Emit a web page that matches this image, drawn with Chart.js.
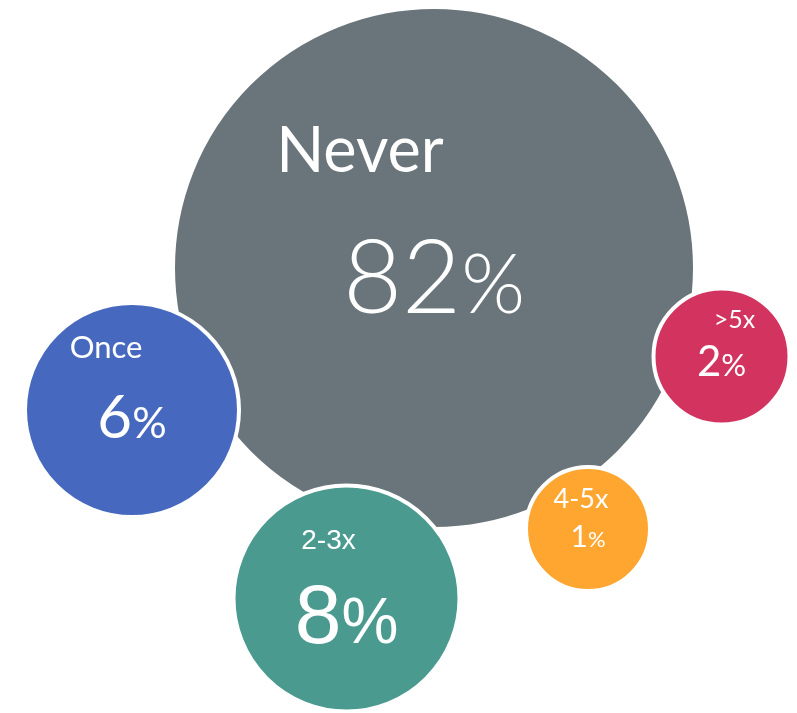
<!DOCTYPE html>
<html>
<head>
<meta charset="utf-8">
<script src="https://cdn.jsdelivr.net/npm/chart.js@4.4.1/dist/chart.umd.min.js"></script>
<style>
  html, body { margin: 0; padding: 0; background: #fff; }
  #wrap { width: 797px; height: 713px; }
</style>
</head>
<body>
<div id="wrap"><canvas id="bubbles" width="797" height="713"></canvas></div>
<script>
const categories = ["Never", "Once", "2-3x", "4-5x", ">5x"];
const shares = [82, 6, 8, 1, 2];
const xValues = [434, 132, 346.5, 588, 721.5];
const yValues = [268, 410, 598.5, 529, 356.5];
const radii = [261, 107, 113, 62, 68];
const colors = ["#6a757b", "#4669bf", "#4a9a8f", "#ffa630", "#d3345f"];

// per-bubble text styling: label offset/size/weight, value offset/size/weight
const textStyle = [
  { font: "Lato", lw: 400, vw: 300, lx: -74, ly: -96, ls: 63, vy: 45, vs: 102, pct: 0.8 },
  { font: "Lato", lw: 400, vw: 400, lx: -26, ly: -52, ls: 31, vy: 28, vs: 60, pct: 0.72 },
  { font: "'Liberation Sans', Arial", lw: 400, vw: 400, lx: -18, ly: -50, ls: 28, vy: 44, vs: 84, pct: 0.76 },
  { font: "Lato", lw: 400, vw: 400, lx: -7, ly: -21, ls: 27, vy: 18, vs: 30, pct: 0.72 },
  { font: "Lato", lw: 400, vw: 400, lx: 13, ly: -29, ls: 25, vy: 19, vs: 42, pct: 0.74 }
];

const points = categories.map(function (c, i) {
  return { x: xValues[i], y: yValues[i], r: radii[i] };
});

const bubbleLabels = {
  id: "bubbleLabels",
  afterDatasetsDraw(chart) {
    const ctx = chart.ctx;
    const meta = chart.getDatasetMeta(0);
    ctx.save();
    ctx.fillStyle = "#ffffff";
    ctx.textBaseline = "alphabetic";
    meta.data.forEach(function (el, i) {
      const s = textStyle[i];
      ctx.font = s.lw + " " + s.ls + "px " + s.font;
      ctx.textAlign = "center";
      ctx.fillText(categories[i], el.x + s.lx, el.y + s.ly);

      const num = String(shares[i]);
      const numFont = s.vw + " " + s.vs + "px " + s.font;
      const pctFont = s.vw + " " + Math.round(s.vs * s.pct) + "px " + s.font;
      ctx.font = numFont;
      const wNum = ctx.measureText(num).width;
      ctx.font = pctFont;
      const wPct = ctx.measureText("%").width;
      const left = el.x - (wNum + wPct) / 2;
      ctx.textAlign = "left";
      ctx.font = numFont;
      ctx.fillText(num, left, el.y + s.vy);
      ctx.font = pctFont;
      ctx.fillText("%", left + wNum, el.y + s.vy);
    });
    ctx.restore();
  }
};

const chart = new Chart(document.getElementById("bubbles"), {
  type: "bubble",
  data: {
    labels: categories,
    datasets: [{
      data: points,
      backgroundColor: colors,
      borderColor: "#ffffff",
      borderWidth: 4,
      hoverBorderWidth: 4,
      clip: false
    }]
  },
  options: {
    responsive: false,
    animation: false,
    layout: { padding: 0, autoPadding: false },
    plugins: {
      legend: { display: false },
      tooltip: { enabled: false }
    },
    scales: {
      x: { type: "linear", display: false, min: 0, max: 797 },
      y: { type: "linear", display: false, min: 0, max: 713, reverse: true }
    }
  },
  plugins: [bubbleLabels]
});
</script>
</body>
</html>
